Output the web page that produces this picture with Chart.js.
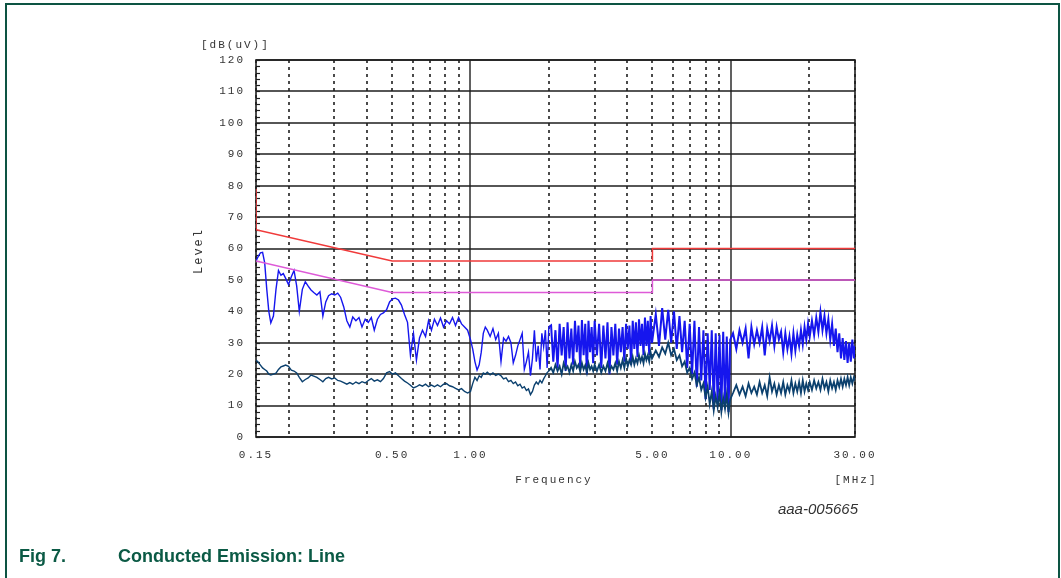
<!DOCTYPE html>
<html>
<head>
<meta charset="utf-8">
<title>Conducted Emission: Line</title>
<script src="https://cdn.jsdelivr.net/npm/chart.js@4/dist/chart.umd.min.js"></script>
<style>
  html, body { margin: 0; padding: 0; background: #fff; }
  #page { position: relative; width: 1061px; height: 578px; overflow: hidden; background: #fff; }
  #frame {
    position: absolute; left: 5px; top: 3px; width: 1055px; height: 620px;
    border: 2px solid #0d5443; border-bottom: none; box-sizing: border-box;
  }
  #chart { position: absolute; left: 0; top: 0; }
  .axis-txt {
    position: absolute; font-family: "Liberation Mono", "DejaVu Sans Mono", monospace;
    font-size: 11px; line-height: 12px; color: #333; letter-spacing: 2px; white-space: nowrap;
  }
  #unitY { left: 201px; top: 39px; }
  #titleX { left: 554px; top: 474px; transform: translateX(-50%); }
  #unitX { left: 856px; top: 474px; transform: translateX(-50%); }
  #titleY { left: 199px; top: 251px; transform: translate(-50%, -50%) rotate(-90deg); font-size: 12px; letter-spacing: 2px; }
  #code {
    position: absolute; right: 203px; top: 501px;
    font-family: "Liberation Sans", Arial, sans-serif; font-style: italic;
    font-size: 15px; line-height: 15px; color: #333;
  }
  .cap {
    position: absolute; top: 547px;
    font-family: "Liberation Sans", Arial, sans-serif; font-weight: bold;
    font-size: 18px; line-height: 18px; color: #0b5a45; white-space: nowrap;
  }
</style>
</head>
<body>
<div id="page">
  <div id="frame"></div>
  <canvas id="chart" width="1061" height="578"></canvas>
  <div class="axis-txt" id="unitY">[dB(uV)]</div>
  <div class="axis-txt" id="titleY">Level</div>
  <div class="axis-txt" id="titleX">Frequency</div>
  <div class="axis-txt" id="unitX">[MHz]</div>
  <div id="code">aaa-005665</div>
  <div class="cap" style="left:19px">Fig 7.</div>
  <div class="cap" style="left:118px">Conducted Emission: Line</div>
</div>
<script>
// measured sweep (MHz) shared by both detectors
const freqMHz = [
  0.150, 0.153, 0.156, 0.159, 0.162, 0.165, 0.168, 0.171, 0.175, 0.179,
  0.183, 0.187, 0.191, 0.195, 0.200, 0.205, 0.210, 0.215, 0.220, 0.226,
  0.232, 0.238, 0.244, 0.250, 0.257, 0.264, 0.271, 0.278, 0.285, 0.293,
  0.301, 0.309, 0.317, 0.326, 0.335, 0.344, 0.353, 0.363, 0.373, 0.383,
  0.394, 0.405, 0.416, 0.427, 0.439, 0.451, 0.463, 0.476, 0.489, 0.502,
  0.515, 0.529, 0.543, 0.558, 0.573, 0.588, 0.604, 0.620, 0.637, 0.654,
  0.672, 0.690, 0.708, 0.727, 0.747, 0.767, 0.788, 0.809, 0.831, 0.853,
  0.876, 0.900, 0.924, 0.949, 0.975, 1.00,
  1.02, 1.04, 1.06, 1.08, 1.10, 1.12, 1.14, 1.16, 1.19, 1.22,
  1.25, 1.28, 1.31, 1.34, 1.37, 1.40, 1.43, 1.46, 1.49, 1.52,
  1.55, 1.58, 1.61, 1.64, 1.67, 1.70, 1.73, 1.76, 1.79, 1.82,
  1.85, 1.88, 1.91, 1.94, 1.97, 2.00,
  2.04, 2.08, 2.12, 2.16, 2.20, 2.24, 2.28, 2.32, 2.36, 2.40,
  2.44, 2.48, 2.52, 2.56, 2.60, 2.64, 2.68, 2.72, 2.76, 2.80,
  2.84, 2.88, 2.92, 2.96, 3.00,
  3.06, 3.12, 3.18, 3.24, 3.30, 3.36, 3.42, 3.48, 3.54, 3.60,
  3.66, 3.72, 3.78, 3.84, 3.90, 3.96, 4.02, 4.08, 4.14, 4.20,
  4.26, 4.32, 4.38, 4.44, 4.50, 4.56, 4.62, 4.68, 4.74, 4.80,
  4.86, 4.92, 4.98,
  5.15, 5.30, 5.45, 5.60, 5.75, 5.90, 6.05, 6.20, 6.35, 6.50,
  6.65, 6.80, 6.95, 7.10, 7.25, 7.40, 7.55, 7.70, 7.85, 8.00,
  8.15, 8.30, 8.45, 8.60, 8.75, 8.90, 9.05, 9.20, 9.35, 9.50,
  9.65, 9.80, 9.95,
  10.2, 10.5, 10.8, 11.1, 11.4, 11.7, 12.0, 12.3, 12.6, 12.9,
  13.2, 13.5, 13.8, 14.1, 14.4, 14.7, 15.0, 15.3, 15.6, 15.9,
  16.2, 16.5, 16.8, 17.1, 17.4, 17.7, 18.0, 18.3, 18.6, 18.9,
  19.2, 19.5, 19.8, 20.1,
  20.5, 20.9, 21.3, 21.7, 22.1, 22.5, 22.9, 23.3, 23.7, 24.1,
  24.5, 24.9, 25.3, 25.7, 26.1, 26.5, 26.9, 27.3, 27.7, 28.1,
  28.5, 28.9, 29.3, 29.7, 30.0
];

// peak detector trace, dB(uV)
const peakLevel = [
  56, 57.5, 58.6, 58.8, 55.4, 47, 40, 36.3, 38.5, 47,
  53, 51.5, 52, 50.5, 48.5, 51, 53, 48, 40, 47,
  49.4, 48, 46.8, 46, 45.2, 46.2, 38.5, 43, 45, 45.6,
  45.2, 45.8, 44.5, 41.4, 37, 35, 38.2, 37, 38, 35,
  37.5, 36.5, 38, 34, 37.5, 39, 39.5, 40.5, 43, 44,
  44.2, 43.6, 42, 39, 36.5, 26, 33, 24.5, 31.5, 34,
  32, 37, 34, 37.5, 35.5, 37.9, 35, 37, 36, 38,
  35.5, 38, 36, 35, 34, 31,
  28, 24, 21.3, 23, 27, 33, 35, 34, 32, 34.5,
  31, 33, 24, 31.5, 30.5, 32, 30, 23.6, 26, 29,
  31, 33, 21.5, 24, 27, 19.5, 25, 34, 24, 29,
  21.5, 33, 28.7, 34, 22, 35,
  35.5, 24, 34, 22, 36, 26, 35, 21, 36.5, 25,
  34.5, 23, 37, 27, 35.5, 22, 37.2, 26, 36, 20,
  37, 27, 35, 23.5, 37,
  26, 36, 22, 35.5, 25, 36.5, 20, 35, 26, 36,
  23, 34.5, 27, 35, 24, 36, 28, 35.5, 23, 37,
  28, 36.5, 25.5, 37.5, 29, 36, 26, 38, 29, 37,
  26, 38.5, 30,
  39, 29, 41, 31, 40.5, 30, 40, 28, 38.5, 27,
  37, 22, 36, 20, 37, 16, 35, 18, 34, 12,
  33, 15, 34, 9, 33, 11, 32.5, 8.5, 33.5, 10,
  32, 8, 31,
  33, 28, 34, 30, 34.5, 25, 35, 29.5, 34, 30,
  35, 26, 34.5, 30.5, 35.5, 29, 35, 31, 33.5, 27,
  33, 28, 32, 26.5, 33, 27.5, 32.5, 29, 34, 29.5,
  35, 31, 36, 32,
  37, 32.5, 38, 33.5, 39.8, 34, 38.5, 33, 37.5, 31,
  36, 29, 34.5, 27, 33, 25, 31.5, 24.5, 30.5, 23.6,
  30, 24, 31, 25, 29
];

// average detector trace, dB(uV)
const avgLevel = [
  24.5, 23.8, 22.9, 22, 21.5, 21, 20, 19.7, 20, 20.3,
  21.5, 22.3, 22.6, 22.9, 22.5, 21.3, 21, 20.4, 19, 17.6,
  18.3, 18.8, 19.7, 19.4, 19, 18.3, 17.6, 18.6, 19, 18.5,
  18.8, 18, 17.8, 17.3, 16.8, 17.3, 16.8, 17.5, 17, 17.6,
  17.2, 18, 18.6, 17.8, 18.2, 17.6, 18.6, 20.4, 20.8, 20,
  20.4, 19.5, 18.6, 17.8, 17.2, 16.5, 15.6, 16, 16.6, 16.2,
  16.8, 16, 16.5, 16, 16.6, 16, 16.8, 17, 16.3, 16,
  15.5, 15, 15.4, 14.5, 14, 14.5,
  17, 19, 18, 19.5, 19, 20.4, 20, 20.6, 19.8, 20.4,
  19.6, 20, 19.5, 18.5, 18.8, 17.6, 18, 17, 17.5, 16.3,
  16.8, 15.6, 16, 14.8, 15.3, 13.5, 14.5, 16.5, 17.5, 16.8,
  18, 17.2, 18.5, 19.5, 20.5, 21,
  22, 20.5, 23, 21, 22.5, 20, 23.5, 21.5, 22.5, 20.5,
  23, 21, 24, 22, 23, 20.8, 23.5, 21.5, 22.8, 20.5,
  23.5, 21.5, 22.5, 21, 23,
  21, 23, 20.5, 22.5, 21, 23.5, 20.8, 22.5, 21.5, 23.5,
  21, 24, 22, 24.5, 22, 25, 22.5, 24.5, 23, 25.5,
  23, 25, 23.5, 26, 24, 25.5, 23.5, 26.5, 24.5, 26,
  24, 27, 25,
  27.5, 25.5, 28.5, 26.5, 30, 26, 28, 24.5, 26, 22.5,
  24, 20.5, 22, 18.5, 20.5, 16.5, 19, 15, 17, 12.5,
  16, 10.5, 14.5, 8.5, 13, 9.5, 14, 8, 12.5, 9,
  13.5, 7.8, 12,
  14, 16.5, 13.5, 16, 13, 17, 14, 16, 13.5, 17.5,
  14, 16.5, 13, 19, 14.5, 17, 13.5, 16.5, 14, 17.5,
  13.5, 16.5, 14.5, 18, 14, 17, 14.5, 17.5, 14, 18,
  14.5, 17, 15, 17.5,
  15, 18, 15.5, 17.5, 15, 18.5, 15.5, 17.5, 14.5, 18,
  15.5, 17.5, 15, 18, 16, 18.5, 16, 18.5, 16.5, 19,
  16.5, 19, 17, 19, 18
];

// limit lines
const qpLimitFreq = [0.15, 0.15, 0.5, 5, 5, 30];
const qpLimitLevel = [79, 66, 56, 56, 60, 60];
const avLimitFreq = [0.15, 0.5, 5, 5, 30];
const avLimitLevel = [56, 46, 46, 50, 50];

// axes
const gridFreqs = [0.15, 0.2, 0.3, 0.4, 0.5, 0.6, 0.7, 0.8, 0.9, 1, 2, 3, 4, 5, 6, 7, 8, 9, 10, 20, 30];
const solidFreqs = [1, 10];
const labeledFreqs = [0.15, 0.5, 1, 5, 10, 30];
const levelTicks = [0, 10, 20, 30, 40, 50, 60, 70, 80, 90, 100, 110, 120];

const toPoints = (xs, ys) => xs.map((f, i) => ({ x: f, y: ys[i] }));

// the dense part of the sweep is drawn a little heavier
const denseWidth = (base, heavy) => (ctx) => (ctx.p0.parsed.x >= 2 ? heavy : base);

// grid, frame and minor ticks drawn under the traces
const gridPlugin = {
  id: "emcGrid",
  beforeDraw(chart) {
    chart.ctx.letterSpacing = "2px";
  },
  beforeDatasetsDraw(chart) {
    const { ctx, chartArea: a, scales: { x, y } } = chart;
    ctx.save();
    ctx.strokeStyle = "#1e1e1e";

    ctx.lineWidth = 1.4;
    ctx.setLineDash([]);
    levelTicks.forEach((v) => {
      const py = Math.round(y.getPixelForValue(v));
      ctx.beginPath();
      ctx.moveTo(a.left, py);
      ctx.lineTo(a.right, py);
      ctx.stroke();
    });

    gridFreqs.forEach((f) => {
      const px = Math.round(x.getPixelForValue(f));
      const solid = solidFreqs.includes(f);
      ctx.setLineDash(solid ? [] : [3, 4]);
      ctx.lineWidth = solid ? 1.4 : 1.6;
      ctx.beginPath();
      ctx.moveTo(px, a.top);
      ctx.lineTo(px, a.bottom);
      ctx.stroke();
    });

    // minor ticks every 2 dB on the left edge
    ctx.setLineDash([]);
    ctx.lineWidth = 1.2;
    for (let v = 0; v <= 120; v += 2) {
      const py = Math.round(y.getPixelForValue(v)) + 0.5;
      ctx.beginPath();
      ctx.moveTo(a.left, py);
      ctx.lineTo(a.left + 4, py);
      ctx.stroke();
    }

    ctx.lineWidth = 1.6;
    ctx.strokeRect(a.left, a.top, a.right - a.left, a.bottom - a.top);
    ctx.restore();
  },
};

new Chart(document.getElementById("chart"), {
  type: "line",
  data: {
    datasets: [
      {
        label: "QP limit",
        data: toPoints(qpLimitFreq, qpLimitLevel),
        borderColor: "#f03a3a",
        borderWidth: 1.5,
        pointRadius: 0,
        tension: 0,
      },
      {
        label: "AV limit",
        data: toPoints(avLimitFreq, avLimitLevel),
        borderColor: "#de5ad8",
        borderWidth: 1.5,
        pointRadius: 0,
        tension: 0,
      },
      {
        label: "Average",
        data: toPoints(freqMHz, avgLevel),
        borderColor: "#0b406e",
        borderWidth: 1.4,
        pointRadius: 0,
        tension: 0,
        segment: { borderWidth: denseWidth(1.4, 1.8) },
      },
      {
        label: "Peak",
        data: toPoints(freqMHz, peakLevel),
        borderColor: "#1616ee",
        borderWidth: 1.4,
        pointRadius: 0,
        tension: 0,
        segment: { borderWidth: denseWidth(1.4, 2) },
      },
    ],
  },
  options: {
    responsive: false,
    devicePixelRatio: 1,
    animation: false,
    events: [],
    layout: { padding: { left: 206, right: 206, top: 60, bottom: 111 } },
    plugins: { legend: { display: false }, tooltip: { enabled: false } },
    scales: {
      x: {
        type: "logarithmic",
        min: 0.15,
        max: 30,
        grid: { display: false, drawTicks: false },
        border: { display: false },
        afterBuildTicks: (scale) => {
          scale.ticks = gridFreqs.map((v) => ({ value: v }));
        },
        afterFit: (scale) => {
          scale.height = 30;
        },
        ticks: {
          autoSkip: false,
          maxRotation: 0,
          padding: 11,
          color: "#333",
          font: { family: "'Liberation Mono', monospace", size: 11 },
          callback: (v) => (labeledFreqs.includes(v) ? v.toFixed(2) : ""),
        },
      },
      y: {
        min: 0,
        max: 120,
        grid: { display: false, drawTicks: false },
        border: { display: false },
        afterBuildTicks: (scale) => {
          scale.ticks = levelTicks.map((v) => ({ value: v }));
        },
        afterFit: (scale) => {
          scale.width = 50;
        },
        ticks: {
          padding: 11,
          color: "#333",
          font: { family: "'Liberation Mono', monospace", size: 11 },
        },
      },
    },
  },
  plugins: [gridPlugin],
});
</script>
</body>
</html>
